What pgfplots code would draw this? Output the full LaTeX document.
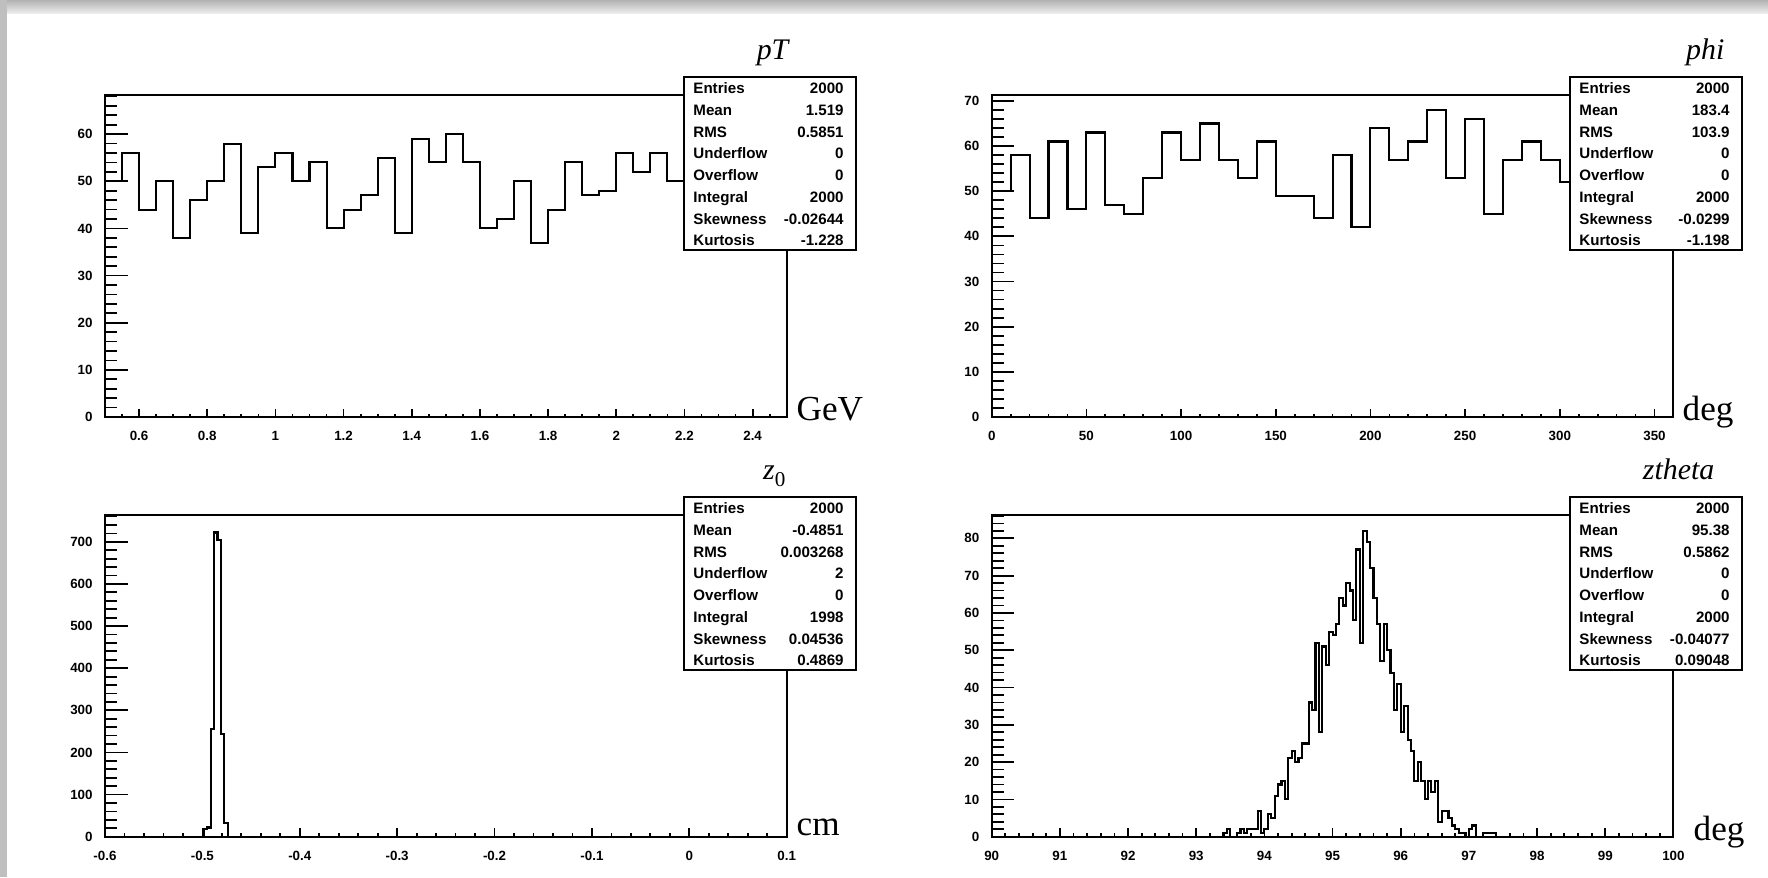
\documentclass[border=0pt]{standalone}
\usepackage{fontspec}
\setmainfont{Liberation Sans}
\newfontfamily\serifunit{Liberation Serif}
\usepackage{pgfplots}
\pgfplotsset{compat=1.18}

\newcommand{\statfont}{\fontsize{4.3}{5}\selectfont\bfseries}
\newcommand{\titlefont}{\fontsize{8.5}{10}\selectfont\serifunit\itshape}
\newcommand{\unitfont}{\fontsize{10}{12}\selectfont\serifunit}

\pgfplotsset{
  rootaxis/.style={
    scale only axis, width=6.817cm, height=3.22cm, anchor=south west,
    axis line style={line width=0.6pt},
    tick align=inside, xtick pos=left, ytick pos=left,
    xtick style={line width=0.5pt, black, /pgfplots/major tick length=0.083cm, /pgfplots/minor tick length=0.035cm},
    ytick style={line width=0.5pt, black, /pgfplots/major tick length=0.227cm, /pgfplots/minor tick length=0.123cm},
    ticklabel style={font=\fontsize{3.8}{4}\selectfont\bfseries},
    xticklabel style={yshift=-0.6pt},
    /pgf/number format/assume math mode=true,
    scaled ticks=false,
  },
  hist/.style={const plot, black, line width=0.6pt, mark=none},
}

% box with the ROOT statistics, #1 left edge px, #2 top edge px
\newcommand{\statbox}[3]{%
  \draw[line width=0.6pt, fill=white] ({#1/100},{-#2/100}) rectangle ({#1/100+1.72},{-#2/100-1.73});
  \foreach \lab/\val [count=\i from 0] in {#3} {
    \node[anchor=base west, inner sep=0, font=\statfont] at ({#1/100+0.087},{-#2/100-0.168-0.217*\i}) {\lab};
    \node[anchor=base east, inner sep=0, font=\statfont] at ({#1/100+1.603},{-#2/100-0.168-0.217*\i}) {\val};
  }
}

\begin{document}
\begin{tikzpicture}
\useasboundingbox (0,0) rectangle (17.68,-8.77);
\fill[white] (0,0) rectangle (17.68,-8.77);
\shade[top color=gray!60, bottom color=gray!15] (0,0) rectangle (17.68,-0.13);
\fill[gray!50] (0,0) rectangle (0.07,-8.77);

% pT
\begin{axis}[rootaxis, at={(1.05cm,-4.17cm)},
  xmin=0.5, xmax=2.5, ymin=0, ymax=68.3,
  xtick={0.6,0.8,1,1.2,1.4,1.6,1.8,2,2.2,2.4},
  xticklabels={0.6,0.8,1,1.2,1.4,1.6,1.8,2,2.2,2.4},
  minor xtick={0.5,0.55,...,2.5},
  ytick={0,10,20,30,40,50,60}, minor ytick={0,2,...,68}]
\addplot[hist] coordinates {
 (0.50,50) (0.55,56) (0.60,44) (0.65,50) (0.70,38) (0.75,46) (0.80,50) (0.85,58)
 (0.90,39) (0.95,53) (1.00,56) (1.05,50) (1.10,54) (1.15,40) (1.20,44) (1.25,47)
 (1.30,55) (1.35,39) (1.40,59) (1.45,54) (1.50,60) (1.55,54) (1.60,40) (1.65,42)
 (1.70,50) (1.75,37) (1.80,44) (1.85,54) (1.90,47) (1.95,48) (2.00,56) (2.05,52)
 (2.10,56) (2.15,50) (2.20,58) (2.25,52) (2.30,57) (2.35,55) (2.40,50) (2.45,56)
 (2.50,56)};
\end{axis}

% phi
\begin{axis}[rootaxis, at={(9.917cm,-4.17cm)},
  xmin=0, xmax=360, ymin=0, ymax=71.3,
  xtick={0,50,100,150,200,250,300,350},
  xticklabels={0,50,100,150,200,250,300,350},
  minor xtick={0,10,...,360},
  ytick={0,10,20,30,40,50,60,70}, minor ytick={0,2,...,70}]
\addplot[hist] coordinates {
 (0,50) (10,58) (20,44) (30,61) (40,46) (50,63) (60,47) (70,45) (80,53) (90,63)
 (100,57) (110,65) (120,57) (130,53) (140,61) (150,49) (160,49) (170,44) (180,58)
 (190,42) (200,64) (210,57) (220,61) (230,68) (240,53) (250,66) (260,45) (270,57)
 (280,61) (290,57) (300,52) (310,57) (320,62) (330,60) (340,55) (350,60) (360,60)};
\end{axis}

% z0
\begin{axis}[rootaxis, at={(1.05cm,-8.367cm)}, height=3.217cm,
  xmin=-0.6, xmax=0.1, ymin=0, ymax=763.6,
  xtick={-0.6,-0.5,-0.4,-0.3,-0.2,-0.1,0,0.1},
  xticklabels={-0.6,-0.5,-0.4,-0.3,-0.2,-0.1,0,0.1},
  minor xtick={-0.6,-0.58,...,0.1},
  ytick={0,100,200,300,400,500,600,700}, minor ytick={0,20,...,760}]
\addplot[hist] coordinates {
 (-0.6,0) (-0.4985,18) (-0.495,22) (-0.4915,256) (-0.488,722) (-0.4845,704)
 (-0.481,244) (-0.4775,32) (-0.474,0) (0.1,0)};
\end{axis}

% ztheta
\begin{axis}[rootaxis, at={(9.917cm,-8.367cm)}, height=3.217cm,
  xmin=90, xmax=100, ymin=0, ymax=86.25,
  xtick={90,91,...,100},
  xticklabels={90,91,92,93,94,95,96,97,98,99,100},
  minor xtick={90,90.2,...,100},
  ytick={0,10,...,80}, minor ytick={0,2,...,86}]
\addplot[hist] coordinates {
 (90,0) (93.40,1) (93.45,2) (93.50,0) (93.55,0) (93.60,1) (93.65,2) (93.70,1)
 (93.75,2) (93.80,2) (93.85,2) (93.90,7) (93.95,1) (94.00,2) (94.05,6) (94.10,5)
 (94.15,11) (94.20,14) (94.25,15) (94.30,10) (94.35,21) (94.40,23) (94.45,20)
 (94.50,21) (94.55,25) (94.60,25) (94.65,36) (94.70,34) (94.75,52) (94.80,28)
 (94.85,51) (94.90,46) (94.95,55) (95.00,54) (95.05,57) (95.10,64) (95.15,62)
 (95.20,68) (95.25,66) (95.30,58) (95.35,77) (95.40,52) (95.45,82) (95.50,79)
 (95.55,72) (95.60,64) (95.65,57) (95.70,47) (95.75,57) (95.80,50) (95.85,44)
 (95.90,34) (95.95,41) (96.00,28) (96.05,35) (96.10,26) (96.15,23) (96.20,15)
 (96.25,20) (96.30,15) (96.35,10) (96.40,15) (96.45,12) (96.50,15) (96.55,4)
 (96.60,7) (96.65,7) (96.70,5) (96.75,3) (96.80,2) (96.85,1) (96.90,1) (96.95,0)
 (97.00,2) (97.05,3) (97.10,0) (97.15,0) (97.20,1) (97.25,1) (97.30,1) (97.35,1)
 (97.40,0) (100,0)};
\end{axis}

\statbox{684}{77}{Entries/2000, Mean/1.519, RMS/0.5851, Underflow/0, Overflow/0, Integral/2000, Skewness/-0.02644, Kurtosis/-1.228}
\statbox{1570}{77}{Entries/2000, Mean/183.4, RMS/103.9, Underflow/0, Overflow/0, Integral/2000, Skewness/-0.0299, Kurtosis/-1.198}
\statbox{684}{497}{Entries/2000, Mean/-0.4851, RMS/0.003268, Underflow/2, Overflow/0, Integral/1998, Skewness/0.04536, Kurtosis/0.4869}
\statbox{1570}{497}{Entries/2000, Mean/95.38, RMS/0.5862, Underflow/0, Overflow/0, Integral/2000, Skewness/-0.04077, Kurtosis/0.09048}

% titles and units
\node[anchor=base east, inner sep=0, font=\titlefont] at (7.89,-0.59) {pT};
\node[anchor=base east, inner sep=0, font=\titlefont] at (17.25,-0.59) {phi};
\node[anchor=base east, inner sep=0, font=\titlefont] at (7.86,-4.79) {z\raisebox{-0.25em}{\upshape\fontsize{6}{6}\selectfont 0}};
\node[anchor=base east, inner sep=0, font=\titlefont] at (17.15,-4.79) {ztheta};
\node[anchor=base west, inner sep=0, font=\unitfont] at (7.96,-4.20) {GeV};
\node[anchor=base west, inner sep=0, font=\unitfont] at (16.82,-4.20) {deg};
\node[anchor=base west, inner sep=0, font=\unitfont] at (7.96,-8.35) {cm};
\node[anchor=base west, inner sep=0, font=\unitfont] at (16.93,-8.40) {deg};
\end{tikzpicture}
\end{document}
